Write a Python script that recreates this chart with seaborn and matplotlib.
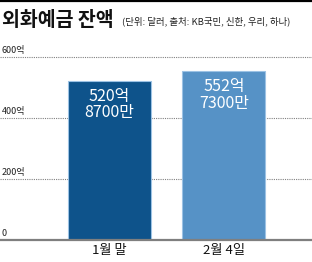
import matplotlib
matplotlib.use("Agg")
import matplotlib.pyplot as plt
import matplotlib.transforms as mtransforms
import seaborn as sns
import pandas as pd

categories = ['1월 말', '2월 4일']
values = [520.87, 552.73]
value_labels = ['520억\n8700만', '552억\n7300만']
ytick_values = [0, 200, 400, 600]
ytick_labels = ['0', '200억', '400억', '600억']
title = '외화예금 잔액'
subtitle = '(단위: 달러, 출처: KB국민, 신한, 우리, 하나)'

sns.set_theme(style='white')
plt.rcParams['font.family'] = ['Noto Sans CJK KR', 'DejaVu Sans']

df = pd.DataFrame({'cat': categories, 'val': values})
bar_colors = ['#0e538b', '#5692c6']

fig = plt.figure(figsize=(3.12, 2.62), dpi=100)
ax = fig.add_axes([0, 22 / 262, 1, 183 / 262])

sns.barplot(data=df, x='cat', y='val', hue='cat', palette=bar_colors,
            width=0.725, legend=False, ax=ax, edgecolor='#9cc2e4', linewidth=0.8,
            saturation=1)

ax.set_ylim(0, 600)
ax.set_xlim(-0.956, 1.769)
ax.set_xlabel('')
ax.set_ylabel('')
ax.set_yticks([])
for s in ['top', 'left', 'right']:
    ax.spines[s].set_visible(False)
ax.spines['bottom'].set_color('#7f7f7f')
ax.spines['bottom'].set_linewidth(1.6)
ax.tick_params(axis='x', length=0, pad=3, labelsize=9.5, colors='#111111')

# gridlines + y labels
trans = mtransforms.blended_transform_factory(ax.transAxes, ax.transData)
for v, lab in zip(ytick_values, ytick_labels):
    if v > 0:
        ax.axhline(v, color='#808080', linestyle=(0, (1, 1)), linewidth=0.8,
                   zorder=0, clip_on=False)
    ax.annotate(lab, xy=(0.006, v), xycoords=trans, xytext=(0, 1.5),
                textcoords='offset points', ha='left', va='bottom',
                fontsize=6.5, color='#222222')

# value labels
for i, (v, lab) in enumerate(zip(values, value_labels)):
    ax.annotate(lab, xy=(i, v), xytext=(0, -5), textcoords='offset points',
                ha='center', va='top', fontsize=11.5, color='white',
                linespacing=0.95)

# top black rule
fig.add_artist(plt.Line2D([0, 1], [1 - 1 / 262, 1 - 1 / 262], color='black',
                          linewidth=1.6, transform=fig.transFigure))

fig.text(2 / 312, 1 - 20 / 262, title, fontsize=14, fontweight='heavy',
         ha='left', va='center', color='#111111')
fig.text(122 / 312, 1 - 21 / 262, subtitle, fontsize=6.8, ha='left',
         va='center', color='#222222')

fig.savefig('out.png', dpi=100)
